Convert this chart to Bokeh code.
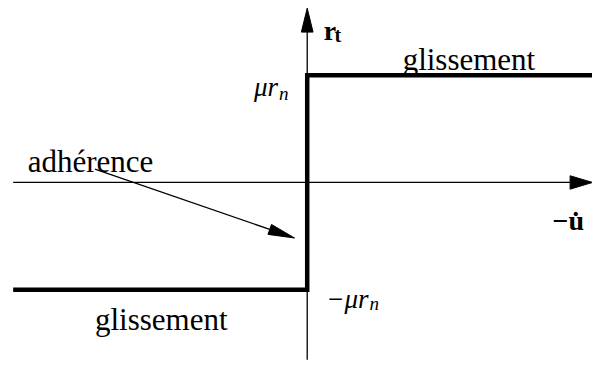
import numpy as np
from bokeh.plotting import figure
from bokeh.models import Range1d
from bokeh.core.properties import value
from bokeh.embed import file_html
from bokeh.resources import INLINE

# ---- data (origin at the axes crossing, mu*r_n = 112 units) ----
mu_rn = 112
step_x = [-302, 0, 0, 293]
step_y = [-mu_rn, -mu_rn, mu_rn, mu_rn]
haxis_x = [-302, 293]
vaxis_y = [-185, 182]
adh_arrow = [(-218, 14), (-13, -58)]

W, H = 592, 362
p = figure(width=W, height=H, x_range=Range1d(-315, 293), y_range=Range1d(-188, 190),
           x_axis_type=None, y_axis_type=None, toolbar_location=None,
           output_backend="svg", min_border=0)
p.grid.visible = False
p.outline_line_color = None
p.background_fill_color = "white"
p.border_fill_color = "white"


def arrow(x0, y0, x1, y1, L, Wd, lw=1.3):
    d = np.array([x1 - x0, y1 - y0], float)
    u = d / np.hypot(*d)
    tip = np.array([x1, y1], float)
    base = tip - L * u
    perp = np.array([-u[1], u[0]])
    a = base + perp * Wd / 2
    b = base - perp * Wd / 2
    p.line([x0, base[0]], [y0, base[1]], line_color="black", line_width=lw)
    p.patch([tip[0], a[0], b[0]], [tip[1], a[1], b[1]], fill_color="black", line_color="black")


# axes
arrow(haxis_x[0], 0, haxis_x[1], 0, 23, 14)
arrow(0, vaxis_y[0], 0, vaxis_y[1], 25, 12)

# step
p.line(step_x, step_y, line_color="black", line_width=4.5, line_join="miter")

# adherence arrow
(ax0, ay0), (ax1, ay1) = adh_arrow
arrow(ax0, ay0, ax1, ay1, 27, 11)

serif = value("Liberation Serif")


def txt(x, y, s, size, style="normal", align="left"):
    p.text(x=[x], y=[y], text=[s], text_font=serif, text_font_size=f"{size}px",
           text_font_style=style, text_align=align, text_baseline="alphabetic",
           text_color="black")


txt(98, 128, "glissement", 31)
txt(-218, -143, "glissement", 31)
txt(-287, 22, "adhérence", 31)

txt(-30, 100, "μr", 27, "italic", "right")
txt(-29, 93, "n", 19, "italic")
txt(63, -122, "−μr", 27, "italic", "right")
txt(64, -126, "n", 19, "italic")

txt(17, 159, "r", 28, "bold")
txt(28, 154, "t", 20, "bold")
txt(252, -40, "−u̇", 28, "bold")

open("out.html", "w").write(file_html(p, INLINE))
